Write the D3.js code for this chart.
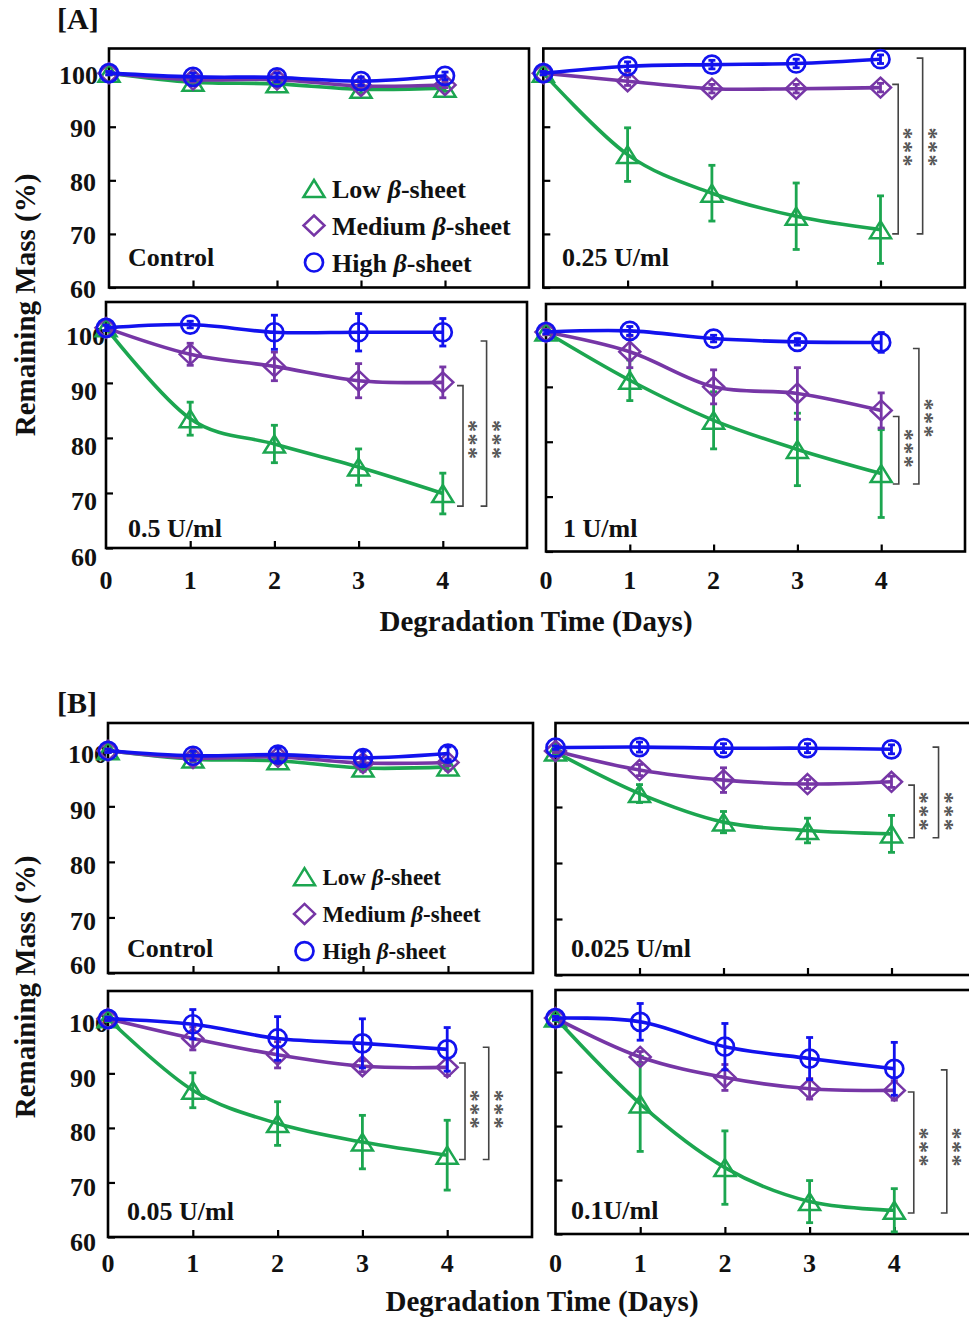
<!DOCTYPE html>
<html>
<head>
<meta charset="utf-8">
<script src="https://cdn.jsdelivr.net/npm/d3@7"></script>
<style>
  body { margin: 0; background: #fff; }
  svg { display: block; }
  text { font-family: "Liberation Serif", "Times New Roman", serif; font-weight: bold; fill: #111; }
</style>
</head>
<body>
<svg id="chart" width="969" height="1319"></svg>
<script>
// ---------- shared categories / ticks ----------
const days = [0, 1, 2, 3, 4];
const xTickValues = [0, 1, 2, 3, 4];
const yTickValues = [60, 70, 80, 90, 100];
const seriesKeys = ["low", "med", "high"];
const seriesLabels = ["Low", "Medium", "High"];

// ---------- [A] remaining mass (%), mean and SD per day ----------
// Control
const aCtrlLow = [100, 98.3, 98.0, 97.0, 97.2];
const aCtrlLowSd = [0.3, 0.5, 0.6, 0.7, 0.6];
const aCtrlMed = [100, 98.8, 98.8, 97.6, 97.8];
const aCtrlMedSd = [0.3, 0.5, 0.5, 0.6, 0.5];
const aCtrlHigh = [100, 99.3, 99.2, 98.5, 99.5];
const aCtrlHighSd = [0.3, 0.7, 0.8, 0.8, 0.7];
// 0.25 U/ml
const a025Low = [100, 84.8, 77.6, 73.3, 70.8];
const a025LowSd = [0.3, 5.0, 5.2, 6.2, 6.3];
const a025Med = [100, 98.5, 97.1, 97.1, 97.3];
const a025MedSd = [0.3, 0.8, 0.8, 0.8, 0.8];
const a025High = [100, 101.3, 101.6, 101.8, 102.6];
const a025HighSd = [0.3, 0.8, 0.8, 0.8, 0.8];
// 0.5 U/ml
const a05Low = [100, 83.5, 78.9, 74.7, 69.9];
const a05LowSd = [0.5, 3.0, 3.4, 3.3, 3.7];
const a05Med = [100, 95.2, 93.0, 90.4, 90.1];
const a05MedSd = [0.5, 2.0, 2.6, 3.1, 2.8];
const a05High = [100, 100.6, 99.2, 99.2, 99.2];
const a05HighSd = [0.5, 0.6, 3.1, 3.4, 2.5];
// 1 U/ml
const a1Low = [100, 91.2, 83.9, 78.6, 74.2];
const a1LowSd = [0.5, 3.7, 5.2, 6.6, 8.0];
const a1Med = [100, 96.4, 90.0, 88.8, 85.7];
const a1MedSd = [0.5, 2.9, 3.1, 4.7, 3.2];
const a1High = [100, 100.2, 98.8, 98.2, 98.1];
const a1HighSd = [0.3, 0.8, 0.6, 0.6, 1.8];

// ---------- [B] remaining mass (%), mean and SD per day ----------
// Control
const bCtrlLow = [100, 98.5, 98.2, 96.9, 97.1];
const bCtrlLowSd = [0.3, 0.5, 0.6, 0.6, 0.6];
const bCtrlMed = [100, 98.7, 98.9, 97.8, 97.9];
const bCtrlMedSd = [0.3, 0.6, 0.6, 0.6, 0.6];
const bCtrlHigh = [100, 99.1, 99.3, 98.7, 99.5];
const bCtrlHighSd = [0.3, 0.8, 1.2, 1.2, 1.2];
// 0.025 U/ml
const b0025Low = [99.8, 92.4, 87.3, 85.8, 85.2];
const b0025LowSd = [0.3, 1.6, 1.9, 2.2, 3.3];
const b0025Med = [100, 96.6, 94.8, 94.1, 94.5];
const b0025MedSd = [0.3, 1.0, 2.2, 0.8, 1.0];
const b0025High = [100.6, 100.7, 100.5, 100.5, 100.3];
const b0025HighSd = [0.3, 0.9, 0.8, 0.8, 0.8];
// 0.05 U/ml
const b005Low = [100, 86.9, 80.8, 77.4, 75.0];
const b005LowSd = [0.5, 3.2, 4.0, 4.9, 6.4];
const b005Med = [100, 96.4, 93.4, 91.3, 91.1];
const b005MedSd = [0.3, 2.1, 2.4, 1.0, 1.5];
const b005High = [100, 99.0, 96.4, 95.5, 94.4];
const b005HighSd = [0.3, 2.7, 4.0, 4.5, 4.0];
// 0.1 U/ml
const b01Low = [100, 84.1, 72.3, 66.0, 64.4];
const b01LowSd = [0.5, 8.8, 6.8, 3.9, 4.0];
const b01Med = [100, 92.8, 89.0, 86.9, 86.6];
const b01MedSd = [0.3, 1.0, 2.4, 1.9, 1.8];
const b01High = [100, 99.3, 94.7, 92.5, 90.6];
const b01HighSd = [0.3, 3.4, 4.3, 3.9, 4.9];

// ---------- significance brackets: [top %, bottom %, star centre %] ----------
const a025Sig = [[97.9, 70.0, 86.1], [102.8, 70.0, 86.1]];
const a05Sig = [[89.5, 67.6, 79.6], [97.6, 67.6, 79.6]];
const a1Sig = [[84.6, 72.3, 78.7], [97.0, 72.3, 84.2]];
const b0025Sig = [[93.9, 84.5, 89.1], [100.7, 84.5, 89.1]];
const b005Sig = [[91.9, 74.2, 83.3], [94.8, 74.2, 83.3]];
const b01Sig = [[86.3, 63.9, 76.0], [90.4, 63.9, 76.0]];
const sigMark = "***";

// ---------- text ----------
const figureTags = ["[A]", "[B]"];
const xTitle = "Degradation Time (Days)";
const yTitle = "Remaining Mass (%)";

// ---------- styles ----------
const colors = { low: "#1ca650", med: "#7636a6", high: "#1212ee" };

// ---------- panel layout ----------
const panels = [
  { x: 109, y: 48.5, w: 420, h: 239, top: 104.6, label: "Control", lx: 128, ly: 265.7,
    data: [aCtrlLow, aCtrlMed, aCtrlHigh], sd: [aCtrlLowSd, aCtrlMedSd, aCtrlHighSd],
    yLab: { right: 96, r100: 98, dy: 2 },
    legend: { x: 314, y: 188.5, dy: 37, tx: 332, fs: 26 } },
  { x: 543.3, y: 48.5, w: 421.5, h: 239, top: 104.6, label: "0.25 U/ml", lx: 562, ly: 265.7,
    data: [a025Low, a025Med, a025High], sd: [a025LowSd, a025MedSd, a025HighSd],
    sig: a025Sig, bx: [4.21, 4.5] },
  { x: 106, y: 302, w: 421, h: 246, top: 104.7, label: "0.5 U/ml", lx: 128, ly: 536.7,
    data: [a05Low, a05Med, a05High], sd: [a05LowSd, a05MedSd, a05HighSd],
    sig: a05Sig, bx: [4.24, 4.52], yLab: { right: 97, r100: 105, dy: 9 }, xLabY: 580 },
  { x: 546, y: 304, w: 419, h: 247.5, top: 105.1, label: "1 U/ml", lx: 563, ly: 536.7,
    data: [a1Low, a1Med, a1High], sd: [a1LowSd, a1MedSd, a1HighSd],
    sig: a1Sig, bx: [4.21, 4.45], xLabY: 580 },
  { x: 108, y: 723, w: 425, h: 250, top: 105, label: "Control", lx: 127, ly: 957,
    data: [bCtrlLow, bCtrlMed, bCtrlHigh], sd: [bCtrlLowSd, bCtrlMedSd, bCtrlHighSd],
    yLab: { right: 96, r100: 107, dy: 4, dy60: -8 },
    legend: { x: 304.5, y: 876.7, dy: 37.2, tx: 322.5, fs: 23 } },
  { x: 555.5, y: 723, w: 420, h: 252, top: 105, label: "0.025 U/ml", lx: 571, ly: 957,
    data: [b0025Low, b0025Med, b0025High], sd: [b0025LowSd, b0025MedSd, b0025HighSd],
    sig: b0025Sig, bx: [4.27, 4.56] },
  { x: 108, y: 991, w: 424, h: 246, top: 105.1, label: "0.05 U/ml", lx: 127, ly: 1220,
    data: [b005Low, b005Med, b005High], sd: [b005LowSd, b005MedSd, b005HighSd],
    sig: b005Sig, bx: [4.21, 4.49], yLab: { right: 96, r100: 108, dy: 5 }, xLabY: 1263 },
  { x: 555.5, y: 990, w: 423.5, h: 244, top: 105.2, label: "0.1U/ml", lx: 571, ly: 1219,
    data: [b01Low, b01Med, b01High], sd: [b01LowSd, b01MedSd, b01HighSd],
    sig: b01Sig, bx: [4.23, 4.62], xLabY: 1263 }
];

const svg = d3.select("#chart");

// marker shapes: open triangle, diamond, circle
function drawMarker(g, key, cx, cy) {
  const c = colors[key];
  if (key === "low") {
    g.append("path").attr("d", `M${cx},${cy - 8.5}L${cx + 10.5},${cy + 8.5}L${cx - 10.5},${cy + 8.5}Z`)
      .attr("fill", "none").attr("stroke", c).attr("stroke-width", 2.5).attr("stroke-linejoin", "miter");
  } else if (key === "med") {
    g.append("path").attr("d", `M${cx},${cy - 10}L${cx + 10.5},${cy}L${cx},${cy + 10}L${cx - 10.5},${cy}Z`)
      .attr("fill", "none").attr("stroke", c).attr("stroke-width", 2.5);
  } else {
    g.append("circle").attr("cx", cx).attr("cy", cy).attr("r", 9)
      .attr("fill", "none").attr("stroke", c).attr("stroke-width", 2.7);
  }
}

panels.forEach(p => {
  const x = d3.scaleLinear().domain([0, 5]).range([p.x, p.x + p.w]);
  const y = d3.scaleLinear().domain([60, p.top]).range([p.y + p.h, p.y]);
  const g = svg.append("g");

  // frame
  g.append("rect").attr("x", p.x).attr("y", p.y).attr("width", p.w).attr("height", p.h)
    .attr("fill", "none").attr("stroke", "#000").attr("stroke-width", 2.6);

  // inward ticks
  const yAxis = d3.axisRight(y).tickValues(yTickValues).tickSize(7).tickFormat("");
  const ya = g.append("g").attr("transform", `translate(${p.x},0)`).call(yAxis);
  const xAxis = d3.axisTop(x).tickValues(xTickValues.slice(1)).tickSize(7).tickFormat("");
  const xa = g.append("g").attr("transform", `translate(0,${p.y + p.h})`).call(xAxis);
  [ya, xa].forEach(a => {
    a.select(".domain").remove();
    a.selectAll("line").attr("stroke", "#000").attr("stroke-width", 2.2);
  });

  // y tick labels
  if (p.yLab) {
    const L = p.yLab;
    g.selectAll(null).data(yTickValues).enter().append("text")
      .attr("x", d => d === 100 ? L.r100 : L.right)
      .attr("y", d => y(d) + (d === 60 && L.dy60 !== undefined ? L.dy60 : L.dy))
      .attr("text-anchor", "end").attr("dominant-baseline", "central")
      .attr("font-size", 26).text(d => d);
  }
  // x tick labels
  if (p.xLabY) {
    g.selectAll(null).data(xTickValues).enter().append("text")
      .attr("x", d => x(d)).attr("y", p.xLabY)
      .attr("text-anchor", "middle").attr("dominant-baseline", "central")
      .attr("font-size", 26).text(d => d);
  }

  // series: smoothed line, error bars, open markers
  const line = d3.line().x((d, i) => x(days[i])).y(d => y(d)).curve(d3.curveCardinal.tension(0));
  seriesKeys.forEach((key, si) => {
    const vals = p.data[si], sds = p.sd[si], c = colors[key];
    const sg = g.append("g");
    sg.append("path").attr("d", line(vals)).attr("fill", "none")
      .attr("stroke", c).attr("stroke-width", 3.6).attr("stroke-linejoin", "round");
    vals.forEach((v, i) => {
      const cx = x(days[i]);
      const y1 = y(v + sds[i]), y2 = y(v - sds[i]);
      sg.append("line").attr("x1", cx).attr("x2", cx).attr("y1", y1).attr("y2", y2)
        .attr("stroke", c).attr("stroke-width", 2.8);
      [y1, y2].forEach(yy => sg.append("line").attr("x1", cx - 3.5).attr("x2", cx + 3.5)
        .attr("y1", yy).attr("y2", yy).attr("stroke", c).attr("stroke-width", 2.8));
    });
    vals.forEach((v, i) => drawMarker(sg, key, x(days[i]), y(v)));
  });

  // significance brackets with a vertical "***"
  if (p.sig) {
    p.sig.forEach((s, k) => {
      const bx = x(p.bx[k]);
      g.append("path")
        .attr("d", `M${bx - 6},${y(s[0])}H${bx}V${y(s[1])}H${bx - 6}`)
        .attr("fill", "none").attr("stroke", "#444").attr("stroke-width", 1.6);
      g.append("text")
        .attr("transform", `translate(${bx + 11 - 12},${y(s[2])}) rotate(90)`)
        .attr("text-anchor", "middle").attr("font-size", 24).attr("font-weight", "normal")
        .attr("letter-spacing", 1.5).style("fill", "#555").text(sigMark);
    });
  }

  // concentration label
  g.append("text").attr("x", p.lx).attr("y", p.ly).attr("font-size", 26).text(p.label);

  // legend
  if (p.legend) {
    const L = p.legend;
    seriesKeys.forEach((key, si) => {
      const cy = L.y + si * L.dy;
      drawMarker(g, key, L.x, cy);
      const t = g.append("text").attr("x", L.tx).attr("y", cy).attr("dominant-baseline", "central")
        .attr("font-size", L.fs);
      t.append("tspan").text(seriesLabels[si] + " ");
      t.append("tspan").attr("font-style", "italic").text("β");
      t.append("tspan").text("-sheet");
    });
  }
});

// figure tags
svg.append("text").attr("x", 57).attr("y", 29).attr("font-size", 30).text(figureTags[0]);
svg.append("text").attr("x", 57).attr("y", 713).attr("font-size", 30).text(figureTags[1]);

// axis titles
[[536, 631, 305], [542, 1311, 987]].forEach(([cx, by, cy]) => {
  svg.append("text").attr("x", cx).attr("y", by).attr("text-anchor", "middle")
    .attr("font-size", 29).text(xTitle);
  svg.append("text").attr("transform", `translate(35,${cy}) rotate(-90)`)
    .attr("text-anchor", "middle").attr("font-size", 29).text(yTitle);
});
</script>
</body>
</html>
